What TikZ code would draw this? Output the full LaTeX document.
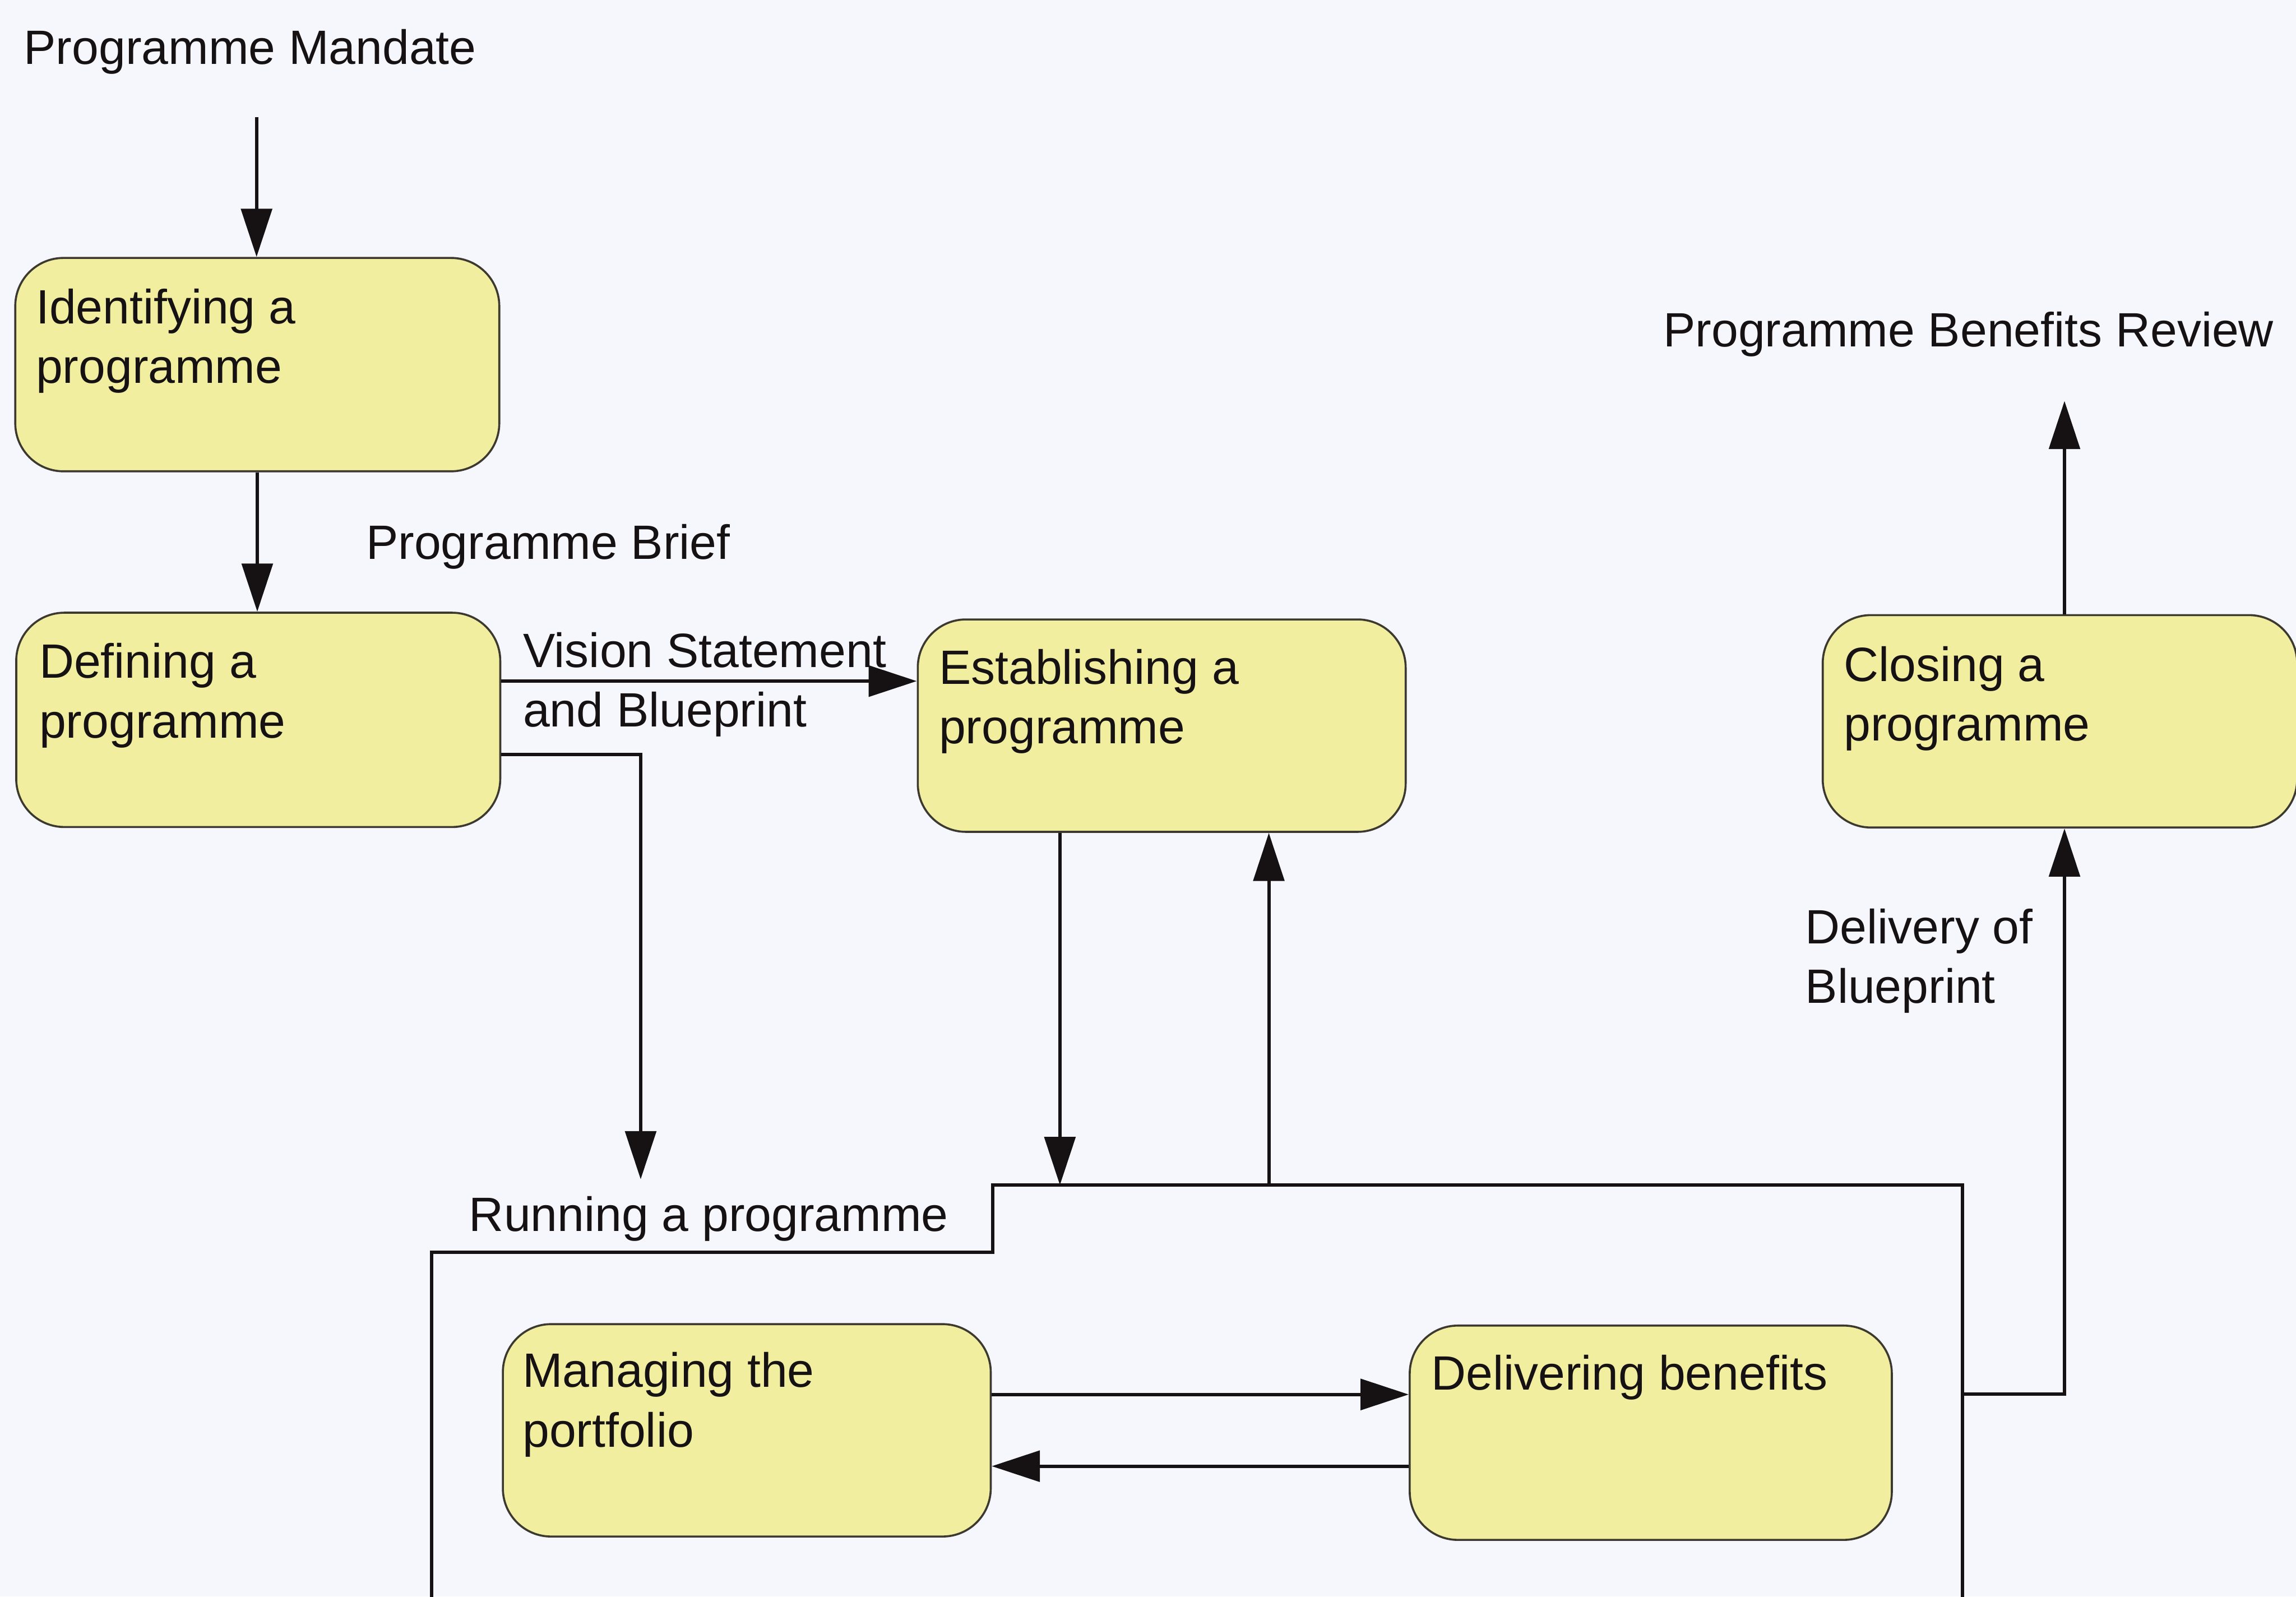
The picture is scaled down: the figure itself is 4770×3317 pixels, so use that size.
\documentclass[tikz,border=0pt]{standalone}
\usepackage{fontspec}
\setmainfont{Liberation Sans}
\usetikzlibrary{arrows.meta}
\definecolor{pagebg}{RGB}{245,247,252}
\definecolor{boxfill}{RGB}{242,238,160}
\definecolor{boxline}{RGB}{60,58,48}
\definecolor{inkc}{RGB}{22,18,20}
% two lines of a label, the node's baseline on the first one
\newcommand\stacklines[2]{\vtop{\baselineskip=1.24cm\hbox{#1}\hbox{#2}}}

\begin{document}
\begin{tikzpicture}[x=0.01cm,y=-0.01cm,
  font=\fontsize{28.45pt}{35pt}\selectfont,
  procbox/.style={draw=boxline, line width=1.2pt, fill=boxfill,
    rounded corners=1cm, inner sep=0pt},
  lbl/.style={anchor=base west, inner sep=0pt, text=inkc},
  conn/.style={draw=inkc, line width=2pt},
  arr/.style={conn, -{Triangle[length=1cm,width=0.64cm]}},
]
% page
\fill[pagebg] (0,0) rectangle (4770,3317);
\useasboundingbox (0,0) rectangle (4770,3317);
\clip (0,0) rectangle (4770,3317);

% process boxes
\node[procbox, minimum width=10.05cm, minimum height=4.43cm] (ident)   at (534.5,757.5)  {};
\node[procbox, minimum width=10.05cm, minimum height=4.45cm] (defn)    at (536.5,1495.5) {};
\node[procbox, minimum width=10.13cm, minimum height=4.41cm] (estab)   at (2413.5,1507.5){};
\node[procbox, minimum width=9.85cm,  minimum height=4.41cm] (closing) at (4279.5,1498.5){};
\node[procbox, minimum width=10.13cm, minimum height=4.41cm] (manage)  at (1551.5,2971.5){};
\node[procbox, minimum width=10.01cm, minimum height=4.45cm] (deliv)   at (3429.5,2976.5){};

% box texts
\node[lbl] (identT)   at (74,672)    {\stacklines{Identifying a}{programme}};
\node[lbl] (defnT)    at (81,1409)   {\stacklines{Defining a}{programme}};
\node[lbl] (estabT)   at (1950,1421) {\stacklines{Establishing a}{programme}};
\node[lbl] (closingT) at (3830,1415) {\stacklines{Closing a}{programme}};
\node[lbl] (manageT)  at (1085,2882) {\stacklines{Managing the}{portfolio}};
\node[lbl] (delivT)   at (2973,2888) {Delivering benefits};

% free labels
\node[lbl] (mandate)  at (49,133)    {Programme Mandate};
\node[lbl] (brief)    at (760,1162)  {Programme Brief};
\node[lbl] (vision)   at (1086,1386) {\stacklines{Vision Statement}{and Blueprint}};
\node[lbl] (review)   at (3455,720)  {Programme Benefits Review};
\node[lbl] (delivery) at (3750,1960) {\stacklines{Delivery of}{Blueprint}};
\node[lbl] (running)  at (974,2558)  {Running a programme};

% frame of "Running a programme"
\coordinate (runBL)  at (897,3400);
\coordinate (runL)   at (897,2602);
\coordinate (runStepB) at (2062,2602);
\coordinate (runStepT) at (2062,2462);
\coordinate (runTR)  at (4077,2462);
\coordinate (runBR)  at (4077,3400);
\draw[conn] (runBL) -- (runL) -- (runStepB) -- (runStepT) -- (runTR) -- (runBR);

% connector ends and levels
\coordinate (mandEnd)   at (533,243);
\coordinate (vsY)       at (0,1415);
\coordinate (defOutY)   at (0,1568);
\coordinate (runInA)    at (1331,2450);
\coordinate (runTopB)   at (2202,2462);
\coordinate (runTopC)   at (2636,2462);
\coordinate (mdY)       at (0,2897);
\coordinate (dmY)       at (0,3046);
\coordinate (runOut)    at (4077,2896);
\coordinate (closeX)    at (4289,0);
\coordinate (reviewEnd) at (4289,833);

% connectors
\draw[arr] (mandEnd) -- (mandEnd |- ident.north);
\draw[arr] (ident.south) -- (ident.south |- defn.north);
\draw[arr] (defn.east |- vsY) -- (estab.west |- vsY);
\draw[arr] (defn.east |- defOutY) -| (runInA);
\draw[arr] (runTopB |- estab.south) -- (runTopB);
\draw[arr] (runTopC) -- (runTopC |- estab.south);
\draw[arr] (manage.east |- mdY) -- (deliv.west |- mdY);
\draw[arr] (deliv.west |- dmY) -- (manage.east |- dmY);
\draw[arr] (runOut) -| (closeX |- closing.south);
\draw[arr] (closeX |- closing.north) -- (reviewEnd);
\end{tikzpicture}
\end{document}
